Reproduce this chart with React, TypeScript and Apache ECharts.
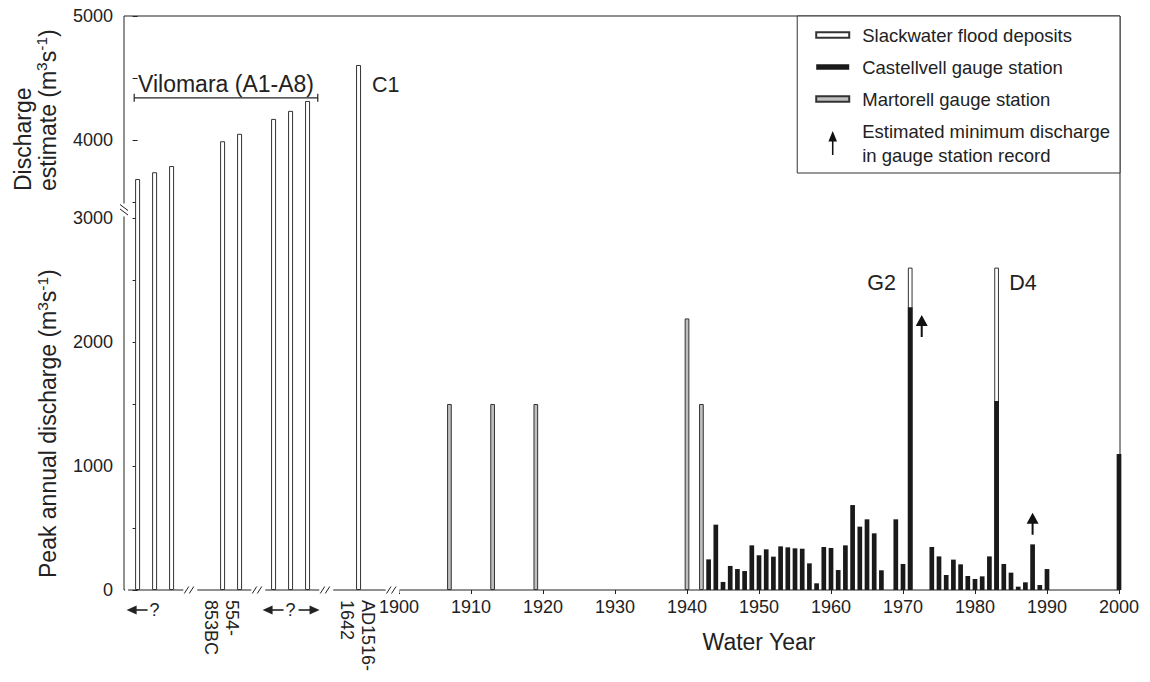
import React, { useEffect, useRef } from 'react';
import * as echarts from 'echarts';

// ---------------- data ----------------
const paleoNames = ['A1', 'A2', 'A3', 'A4', 'A5', 'A6', 'A7', 'A8', 'C1'];
const paleoSlots = [0, 1, 2, 5, 6, 8, 9, 10, 13];
const paleoValues = [3685, 3740, 3790, 3990, 4050, 4170, 4235, 4315, 4605];
const paleoGroupLabels = ['?', '554-\n853BC', '?', 'AD1516-\n1642'];
const paleoGroupSlots = [[0, 1, 2], [5, 6], [8, 9, 10], [13]];
const paleoGroupArrows = ['left', '', 'both', ''];

const martorellYears = [1907, 1913, 1919, 1940, 1942];
const martorellValues = [1500, 1500, 1500, 2190, 1500];

const castellvellYears = [
  1943, 1944, 1945, 1946, 1947, 1948, 1949, 1950, 1951, 1952, 1953, 1954, 1955,
  1956, 1957, 1958, 1959, 1960, 1961, 1962, 1963, 1964, 1965, 1966, 1967, 1969,
  1970, 1971, 1974, 1975, 1976, 1977, 1978, 1979, 1980, 1981, 1982, 1983, 1984,
  1985, 1986, 1987, 1988, 1989, 1990, 2000,
];
const castellvellValues = [
  247, 527, 65, 194, 169, 153, 360, 280, 328, 269, 352, 344, 336,
  333, 215, 54, 347, 339, 161, 360, 685, 511, 570, 457, 159, 570,
  210, 2280, 347, 271, 121, 245, 207, 113, 89, 110, 271, 1525, 210,
  140, 27, 62, 368, 40, 169, 1097,
];

const slackwaterYears = [1971, 1983];
const slackwaterValues = [2600, 2600];
const slackwaterNames = ['G2', 'D4'];

const minimumYears = [1972.6, 1988];
const minimumValues = [2040, 445];

const yLabelValues = [0, 1000, 2000, 3000, 4000, 5000];
const yTickValues = [0, 500, 1000, 1500, 2000, 2500, 3000, 3500, 4000, 4500, 5000];
const yearTicks = [1900, 1910, 1920, 1930, 1940, 1950, 1960, 1970, 1980, 1990, 2000];

// y axis break: values between 3000 and 3371 are cut out
const BREAK_FROM = 3000;
const BREAK_TO = 3371;
const toT = (v: number) => (v <= BREAK_FROM ? v : v - (BREAK_TO - BREAK_FROM));
const fromT = (t: number) => (t <= BREAK_FROM ? t : t + (BREAK_TO - BREAK_FROM));

// ---------------- layout ----------------
const FONT = '"Liberation Sans", Arial, Helvetica, sans-serif';
const INK = '#222';
const X_MIN = 1861.8;
const X_MAX = 2000.14;
const PALEO_MIN = -0.8;
const PALEO_MAX = 57.8;
const BREAK_SLOTS = [3.1, 7.1, 11.1, 15.0];

const SLACK = 'Slackwater flood deposits';
const CAST = 'Castellvell gauge station';
const MART = 'Martorell gauge station';
const MINI = 'Estimated minimum discharge\nin gauge station record';

const ARROW_SYMBOL = 'path://M6,0 L12,11 L7,11 L7,22 L5,22 L5,11 L0,11 Z';
const ARROW_ICON = 'path://M4.5,0 L9,11 L5.3,11 L5.3,25 L3.7,25 L3.7,11 L0,11 Z';
const BAR_ICON = 'path://M0,0 L33,0 L33,5.5 L0,5.5 Z';

const annLabel = (text: string, pos: number[], align: string) => ({
  show: true,
  formatter: text,
  position: pos,
  align,
  verticalAlign: 'middle',
  fontSize: 21.5,
  fontFamily: FONT,
  color: INK,
});

function buildOption(): any {
  return {
    animation: false,
    grid: {
      left: 124, right: 30, top: 16, bottom: 92,
      show: true, borderColor: INK, borderWidth: 1, backgroundColor: 'transparent',
    },
    legend: {
      orient: 'vertical', right: 30, top: 16, align: 'left',
      itemWidth: 33, itemHeight: 24, itemGap: 8,
      padding: [7, 10, 6, 18],
      borderColor: '#333', borderWidth: 1, backgroundColor: '#fff',
      selectedMode: false, symbolKeepAspect: true,
      itemStyle: { opacity: 1 },
      textStyle: { fontSize: 18.5, fontFamily: FONT, color: INK, lineHeight: 24, padding: [0, 0, 0, 8] },
      data: [
        { name: SLACK, icon: BAR_ICON, symbolKeepAspect: true },
        { name: CAST, icon: BAR_ICON, symbolKeepAspect: true },
        { name: MART, icon: BAR_ICON, symbolKeepAspect: true },
        { name: MINI, icon: ARROW_ICON, symbolKeepAspect: true },
      ],
    },
    xAxis: [
      {
        type: 'value', min: X_MIN, max: X_MAX, position: 'bottom',
        axisLine: { show: false }, splitLine: { show: false },
        axisTick: { show: true, length: 4, customValues: yearTicks, lineStyle: { color: INK } },
        axisLabel: {
          customValues: yearTicks,
          formatter: (v: number) => String(Math.round(v)),
          fontSize: 18, fontFamily: FONT, color: INK, margin: 8,
        },
      },
      { type: 'value', min: PALEO_MIN, max: PALEO_MAX, show: false, position: 'bottom' },
    ],
    yAxis: {
      type: 'value', min: 0, max: toT(5000),
      axisLine: { show: false }, splitLine: { show: false },
      axisTick: { show: true, length: 5, customValues: yTickValues.map(toT), lineStyle: { color: INK } },
      axisLabel: {
        customValues: yLabelValues.map(toT),
        formatter: (t: number) => String(Math.round(fromT(t))),
        fontSize: 18, fontFamily: FONT, color: INK, margin: 11,
      },
    },
    series: [
      {
        name: SLACK, type: 'bar', xAxisIndex: 1, barWidth: 5,
        itemStyle: { color: '#fff', borderColor: '#333', borderWidth: 1 },
        data: paleoSlots.map((s, i) => ({
          value: [s, toT(paleoValues[i])],
          label: paleoNames[i] === 'C1' ? annLabel('C1', [16, 20.5], 'left') : undefined,
        })),
      },
      {
        name: SLACK, type: 'bar', xAxisIndex: 0, barWidth: 4.7, barGap: '-100%',
        itemStyle: { color: '#fff', borderColor: '#333', borderWidth: 1 },
        data: slackwaterYears.map((y, i) => ({
          value: [y, toT(slackwaterValues[i])],
          label: i === 0
            ? annLabel(slackwaterNames[i], [-12, 15.5], 'right')
            : annLabel(slackwaterNames[i], [15, 15.5], 'left'),
        })),
      },
      {
        name: CAST, type: 'bar', xAxisIndex: 0, barWidth: 4.7, barGap: '-100%',
        itemStyle: { color: '#1a1a1a' },
        data: castellvellYears.map((y, i) => [y, toT(castellvellValues[i])]),
      },
      {
        name: MART, type: 'bar', xAxisIndex: 0, barWidth: 4.7, barGap: '-100%',
        itemStyle: { color: '#bfbfbf', borderColor: '#333', borderWidth: 1 },
        data: martorellYears.map((y, i) => [y, toT(martorellValues[i])]),
      },
      {
        name: MINI, type: 'scatter', xAxisIndex: 0,
        symbol: ARROW_SYMBOL, symbolSize: [12, 22], symbolOffset: [0, '-50%'],
        itemStyle: { color: '#111', opacity: 1 },
        data: minimumYears.map((y, i) => [y, toT(minimumValues[i])]),
      },
    ],
  };
}

const RICH = {
  n: { fontSize: 23, fontFamily: FONT, fill: INK, lineHeight: 25 },
  s: { fontSize: 15.5, fontFamily: FONT, fill: INK, lineHeight: 13, padding: [0, 0, 12, 0] },
};

function buildGraphic(xs: (s: number) => number, yv: (v: number) => number, xy: (y: number) => number): any[] {
  const Z = 50;
  const g: any[] = [];
  const line = (x1: number, y1: number, x2: number, y2: number, w = 1) => ({
    type: 'line', z: Z, silent: true,
    shape: { x1, y1, x2, y2 }, style: { stroke: INK, lineWidth: w },
  });
  const white = (x: number, y: number, width: number, height: number) => ({
    type: 'rect', z: Z - 1, silent: true, shape: { x, y, width, height }, style: { fill: '#fff' },
  });

  // y axis break
  const yTop = yv(3500);
  const yBot = yv(3000);
  g.push(white(119.5, yTop + 1.5, 9, yBot - yTop - 3));
  g.push(line(120, yTop + 2.5, 128, yTop + 8.5));
  g.push(line(120, yTop + 7, 128, yTop + 13));

  // x axis breaks
  const y0 = yv(0);
  g.push(white(125.2, y0 - 3, 2.8, 6));
  BREAK_SLOTS.forEach((s) => {
    const cx = xs(s);
    g.push(white(cx - 7, y0 - 3, 14, 6));
    g.push(line(cx - 6, y0 + 3.5, cx - 1.5, y0 - 3.5));
    g.push(line(cx - 1, y0 + 3.5, cx + 3.5, y0 - 3.5));
  });

  // paleo group labels
  paleoGroupLabels.forEach((lab, gi) => {
    const slots = paleoGroupSlots[gi];
    if (lab.indexOf('\n') >= 0) {
      g.push({
        type: 'text', z: Z, silent: true,
        x: xs(slots[0]) - 1, y: 600, rotation: -Math.PI / 2,
        style: { text: lab, fontSize: 18, fontFamily: FONT, fill: INK, align: 'left', verticalAlign: 'middle', lineHeight: 21 },
      });
    } else {
      const c = xs(slots[Math.floor(slots.length / 2)]);
      const ay = 610;
      g.push({
        type: 'text', z: Z, silent: true, x: c, y: 609.5,
        style: { text: lab, fontSize: 18, fontFamily: FONT, fill: INK, align: 'center', verticalAlign: 'middle' },
      });
      if (paleoGroupArrows[gi] === 'left' || paleoGroupArrows[gi] === 'both') {
        g.push({ type: 'polygon', z: Z, silent: true, shape: { points: [[c - 28, ay], [c - 18, ay - 4.5], [c - 18, ay + 4.5]] }, style: { fill: INK } });
        g.push(line(c - 19, ay, c - 7, ay, 1.6));
      }
      if (paleoGroupArrows[gi] === 'both') {
        g.push({ type: 'polygon', z: Z, silent: true, shape: { points: [[c + 29, ay], [c + 19, ay - 4.5], [c + 19, ay + 4.5]] }, style: { fill: INK } });
        g.push(line(c + 8, ay, c + 20, ay, 1.6));
      }
    }
  });

  // Vilomara bracket
  const bx1 = xs(-0.2);
  const bx2 = xs(10.6);
  const by = yv(4340);
  g.push(line(bx1, by, bx2, by, 1.2));
  g.push(line(bx1, by - 4, bx1, by + 4, 1.2));
  g.push(line(bx2, by - 4, bx2, by + 4, 1.2));
  g.push({
    type: 'text', z: Z, silent: true, x: (bx1 + bx2) / 2, y: by - 14,
    style: { text: 'Vilomara (A1-A8)', fontSize: 23, fontFamily: FONT, fill: INK, align: 'center', verticalAlign: 'middle' },
  });

  // axis titles
  g.push({
    type: 'text', z: Z, silent: true, x: 35, y: 191, rotation: Math.PI / 2,
    style: { text: '{n|Discharge}\n{n|estimate (m}{s|3}{n|s}{s|-1}{n|)}', rich: RICH, align: 'left', verticalAlign: 'middle' },
  });
  g.push({
    type: 'text', z: Z, silent: true, x: 48, y: 578, rotation: Math.PI / 2,
    style: { text: '{n|Peak annual discharge (m}{s|3}{n|s}{s|-1}{n|)}', rich: RICH, align: 'left', verticalAlign: 'middle' },
  });
  g.push({
    type: 'text', z: Z, silent: true, x: (xy(1900) + xy(2000)) / 2, y: 642,
    style: { text: 'Water Year', fontSize: 23, fontFamily: FONT, fill: INK, align: 'center', verticalAlign: 'middle' },
  });
  return g;
}

export default function App() {
  const ref = useRef<HTMLDivElement>(null);
  useEffect(() => {
    document.body.style.margin = '0';
    const el = ref.current as HTMLDivElement;
    const chart = echarts.init(el, null, { renderer: 'svg' });
    chart.setOption(buildOption());
    const xs = (s: number) => chart.convertToPixel({ xAxisIndex: 1 } as any, s) as unknown as number;
    const xy = (y: number) => chart.convertToPixel({ xAxisIndex: 0 } as any, y) as unknown as number;
    const yv = (v: number) => chart.convertToPixel({ yAxisIndex: 0 } as any, toT(v)) as unknown as number;
    chart.setOption({ graphic: buildGraphic(xs, yv, xy) });
    return () => chart.dispose();
  }, []);
  return <div ref={ref} style={{ width: 1150, height: 682, background: '#fff' }} />;
}
